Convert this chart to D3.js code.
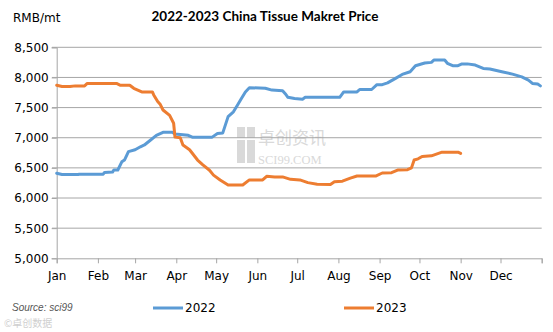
<!DOCTYPE html>
<html><head><meta charset="utf-8">
<script src="https://cdn.jsdelivr.net/npm/d3@7"></script>
<style>body{margin:0;background:#fff}svg{display:block}</style>
</head><body><div id="chart"></div>
<script>
const title = "2022-2023 China Tissue Makret Price";
const unitLabel = "RMB/mt";
const monthLabels = ["Jan","Feb","Mar","Apr","May","Jun","Jul","Aug","Sep","Oct","Nov","Dec"];
const yTicks = [5000,5500,6000,6500,7000,7500,8000,8500];
const seriesNames = ["2022","2023"];
const colors = ["#5B9BD5","#ED7D31"];

const dates2022 = ["01-01","01-05","01-17","01-18","02-05","02-06","02-12","02-13","02-16","02-19","02-21","02-24","03-01","03-05","03-08","03-12","03-17","03-22","03-29","03-31","04-10","04-13","04-28","05-02","05-06","05-10","05-14","05-17","05-20","05-23","05-26","06-07","06-12","06-20","06-22","06-24","06-29","07-05","07-07","08-02","08-05","08-15","08-17","08-26","08-30","09-03","09-07","09-13","09-18","09-24","09-28","10-05","10-10","10-12","10-20","10-22","10-26","10-30","11-02","11-06","11-12","11-18","11-23","12-02","12-10","12-17","12-22","12-25","12-29","12-31"];
const values2022 = [6410,6390,6390,6395,6395,6425,6430,6465,6465,6600,6630,6770,6800,6850,6880,6950,7040,7090,7090,7060,7040,7010,7010,7070,7080,7350,7430,7540,7650,7760,7830,7820,7790,7780,7730,7670,7650,7640,7670,7670,7760,7760,7800,7800,7880,7880,7910,7985,8050,8095,8195,8240,8250,8290,8290,8235,8195,8195,8225,8225,8205,8150,8140,8095,8055,8010,7955,7900,7890,7860];

const dates2023 = ["01-01","01-05","01-11","01-15","01-22","01-24","02-15","02-18","02-25","02-28","03-06","03-14","03-15","03-18","03-20","03-22","03-27","03-30","03-31","04-04","04-06","04-11","04-17","04-21","04-26","04-29","05-04","05-10","05-21","05-26","06-05","06-08","06-14","06-20","06-26","07-03","07-09","07-16","07-26","07-29","08-04","08-10","08-15","08-29","09-03","09-10","09-15","09-22","09-25","09-27","09-30","10-03","10-10","10-18","10-30","11-01"];
const values2023 = [7870,7850,7850,7860,7860,7900,7900,7870,7870,7820,7760,7760,7710,7600,7550,7460,7370,7240,7010,7000,6880,6800,6630,6550,6460,6380,6300,6215,6215,6300,6300,6360,6350,6350,6310,6300,6255,6230,6225,6270,6280,6330,6365,6365,6415,6420,6465,6470,6500,6630,6650,6690,6700,6760,6760,6740];

const W = 553, H = 332;
const parse = d3.timeParse("%Y-%m-%d");
const toDate = s => parse("2022-" + s);

const svg = d3.select("#chart").append("svg").attr("width", W).attr("height", H)
  .style("font-family", "'DejaVu Sans', sans-serif");

const x = d3.scaleTime().domain([new Date(2022,0,1), new Date(2023,0,1)]).range([56.7, 541.7]);
const y = d3.scaleLinear().domain([5000, 8500]).range([258.3, 47.3]);

// watermark
const wm = svg.append("g").attr("fill", "#d9d9d9");
wm.append("rect").attr("x", 237).attr("y", 127).attr("width", 8).attr("height", 11);
wm.append("rect").attr("x", 247).attr("y", 127).attr("width", 8).attr("height", 11);
wm.append("rect").attr("x", 237).attr("y", 140).attr("width", 8).attr("height", 23);
wm.append("rect").attr("x", 247).attr("y", 140).attr("width", 8).attr("height", 23);
wm.append("text").attr("x", 258).attr("y", 144).attr("font-size", 17)
  .style("font-family", "'Noto Sans CJK SC'").text("卓创资讯");
wm.append("text").attr("x", 258).attr("y", 164).attr("font-size", 12.5)
  .style("font-family", "'Liberation Serif', serif").text("SCI99.COM");

// gridlines
svg.append("g").selectAll("line").data(yTicks.filter(v => v > 5000)).join("line")
  .attr("x1", 52).attr("x2", 541.7).attr("y1", d => y(d)).attr("y2", d => y(d))
  .attr("stroke", "#a6a6a6").attr("stroke-width", 1);

// y axis
const yAxis = svg.append("g").attr("transform", "translate(56.7,0)")
  .call(d3.axisLeft(y).tickValues(yTicks).tickFormat(d3.format(",")).tickSize(5).tickPadding(3));
yAxis.select(".domain").attr("stroke", "#a6a6a6");
yAxis.selectAll(".tick line").attr("stroke", "#a6a6a6");
yAxis.selectAll("text").attr("font-size", 12).attr("fill", "#000").style("font-family", "'DejaVu Sans', sans-serif");

// x axis
const monthStarts = d3.range(12).map(m => new Date(2022, m, 1)).concat([new Date(2023,0,1)]);
const xAxis = svg.append("g").attr("transform", "translate(0,258.3)")
  .call(d3.axisBottom(x).tickValues(monthStarts).tickSize(5).tickPadding(8)
    .tickFormat((d, i) => i < 12 ? monthLabels[i] : ""));
xAxis.select(".domain").attr("stroke", "#a6a6a6");
xAxis.selectAll(".tick line").attr("stroke", "#a6a6a6");
xAxis.selectAll("text").attr("font-size", 12).attr("fill", "#000").style("font-family", "'DejaVu Sans', sans-serif");

// lines
const line = d3.line().x(d => x(d.date)).y(d => y(d.value));
const series = [
  dates2022.map((d, i) => ({date: toDate(d), value: values2022[i]})),
  dates2023.map((d, i) => ({date: toDate(d), value: values2023[i]}))
];
series.forEach((s, i) => {
  svg.append("path").datum(s).attr("d", line).attr("fill", "none")
    .attr("stroke", colors[i]).attr("stroke-width", 3).attr("stroke-linejoin", "round").attr("stroke-linecap", "round");
});

// title and unit
svg.append("text").attr("x", 265).attr("y", 21).attr("text-anchor", "middle")
  .attr("font-size", 13.5).attr("font-weight", "bold").style("font-family", "Lato, sans-serif").text(title);
svg.append("text").attr("x", 13).attr("y", 22).attr("font-size", 12).text(unitLabel);

// legend
const legendX = [153, 344];
seriesNames.forEach((n, i) => {
  const g = svg.append("g");
  g.append("line").attr("x1", legendX[i]).attr("x2", legendX[i] + 30).attr("y1", 308).attr("y2", 308)
    .attr("stroke", colors[i]).attr("stroke-width", 3);
  g.append("text").attr("x", legendX[i] + 32).attr("y", 312).attr("font-size", 12).text(n);
});

// source watermark
svg.append("text").attr("x", 12).attr("y", 311).attr("font-size", 10).attr("font-style", "italic")
  .attr("fill", "#555").style("font-family", "'Liberation Sans Narrow', sans-serif").text("Source: sci99");
svg.append("text").attr("x", 4).attr("y", 327).attr("font-size", 10).attr("fill", "#cfcfcf")
  .style("font-family", "'Noto Sans CJK SC'").text("©卓创数据");
</script></body></html>
